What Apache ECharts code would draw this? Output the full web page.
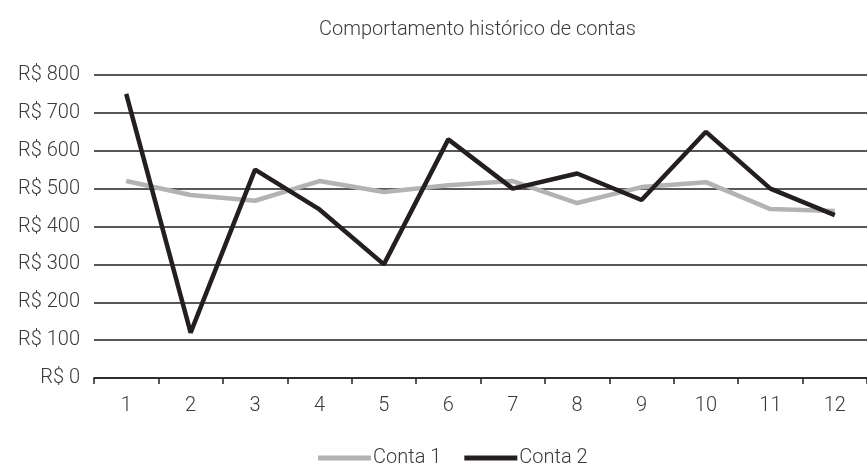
<!DOCTYPE html>
<html>
<head>
<meta charset="utf-8">
<script src="https://cdn.jsdelivr.net/npm/echarts@6/dist/echarts.min.js"></script>
<style>
  html, body { margin: 0; padding: 0; background: #fff; }
  #chart { width: 867px; height: 466px; }
</style>
</head>
<body>
<div id="chart"></div>
<script>
// Months of the period
const categories = ['1', '2', '3', '4', '5', '6', '7', '8', '9', '10', '11', '12'];
// Monthly amounts per account (R$)
const conta1 = [520, 483, 468, 520, 491, 509, 520, 462, 504, 517, 446, 441];
const conta2 = [750, 120, 550, 445, 300, 630, 500, 540, 470, 650, 500, 430];
const seriesNames = ['Conta 1', 'Conta 2'];

const FONT = 'Roboto';
const TEXT = '#3a3a3a';
const INK = '#231f20';

const chart = echarts.init(document.getElementById('chart'));
chart.setOption({
  animation: false,
  title: {
    text: 'Comportamento histórico de contas',
    left: 314,
    top: 15,
    textStyle: { fontFamily: FONT, fontWeight: 300, fontSize: 20, color: TEXT }
  },
  legend: {
    left: 313,
    top: 443,
    itemWidth: 53,
    itemHeight: 5,
    itemGap: 23,
    icon: 'rect',
    textStyle: { fontFamily: FONT, fontWeight: 300, fontSize: 20, color: TEXT, padding: [0, 0, 0, -3] },
    data: seriesNames
  },
  grid: { left: 94, right: -4, top: 75, bottom: 88 },
  xAxis: {
    type: 'category',
    data: categories,
    boundaryGap: true,
    axisLine: { lineStyle: { color: INK, width: 1.5 } },
    axisTick: { show: true, length: 6, inside: false, lineStyle: { color: INK, width: 1.5 } },
    axisLabel: { margin: 18, fontFamily: FONT, fontWeight: 300, fontSize: 20, color: TEXT },
    splitLine: { show: false }
  },
  yAxis: {
    type: 'value',
    min: 0,
    max: 800,
    interval: 100,
    axisLine: { show: false },
    axisTick: { show: false },
    axisLabel: {
      margin: 14,
      fontFamily: FONT, fontWeight: 300, fontSize: 20, color: TEXT,
      formatter: v => 'R$ ' + v
    },
    splitLine: { lineStyle: { color: INK, width: 1.5 } }
  },
  series: [
    {
      name: seriesNames[0],
      type: 'line',
      data: conta1,
      symbol: 'none',
      lineStyle: { color: '#b3b3b6', width: 4.5 },
      itemStyle: { color: '#b3b3b6' },
      z: 3
    },
    {
      name: seriesNames[1],
      type: 'line',
      data: conta2,
      symbol: 'none',
      lineStyle: { color: INK, width: 4.5 },
      itemStyle: { color: INK },
      z: 4
    }
  ]
});
</script>
</body>
</html>
